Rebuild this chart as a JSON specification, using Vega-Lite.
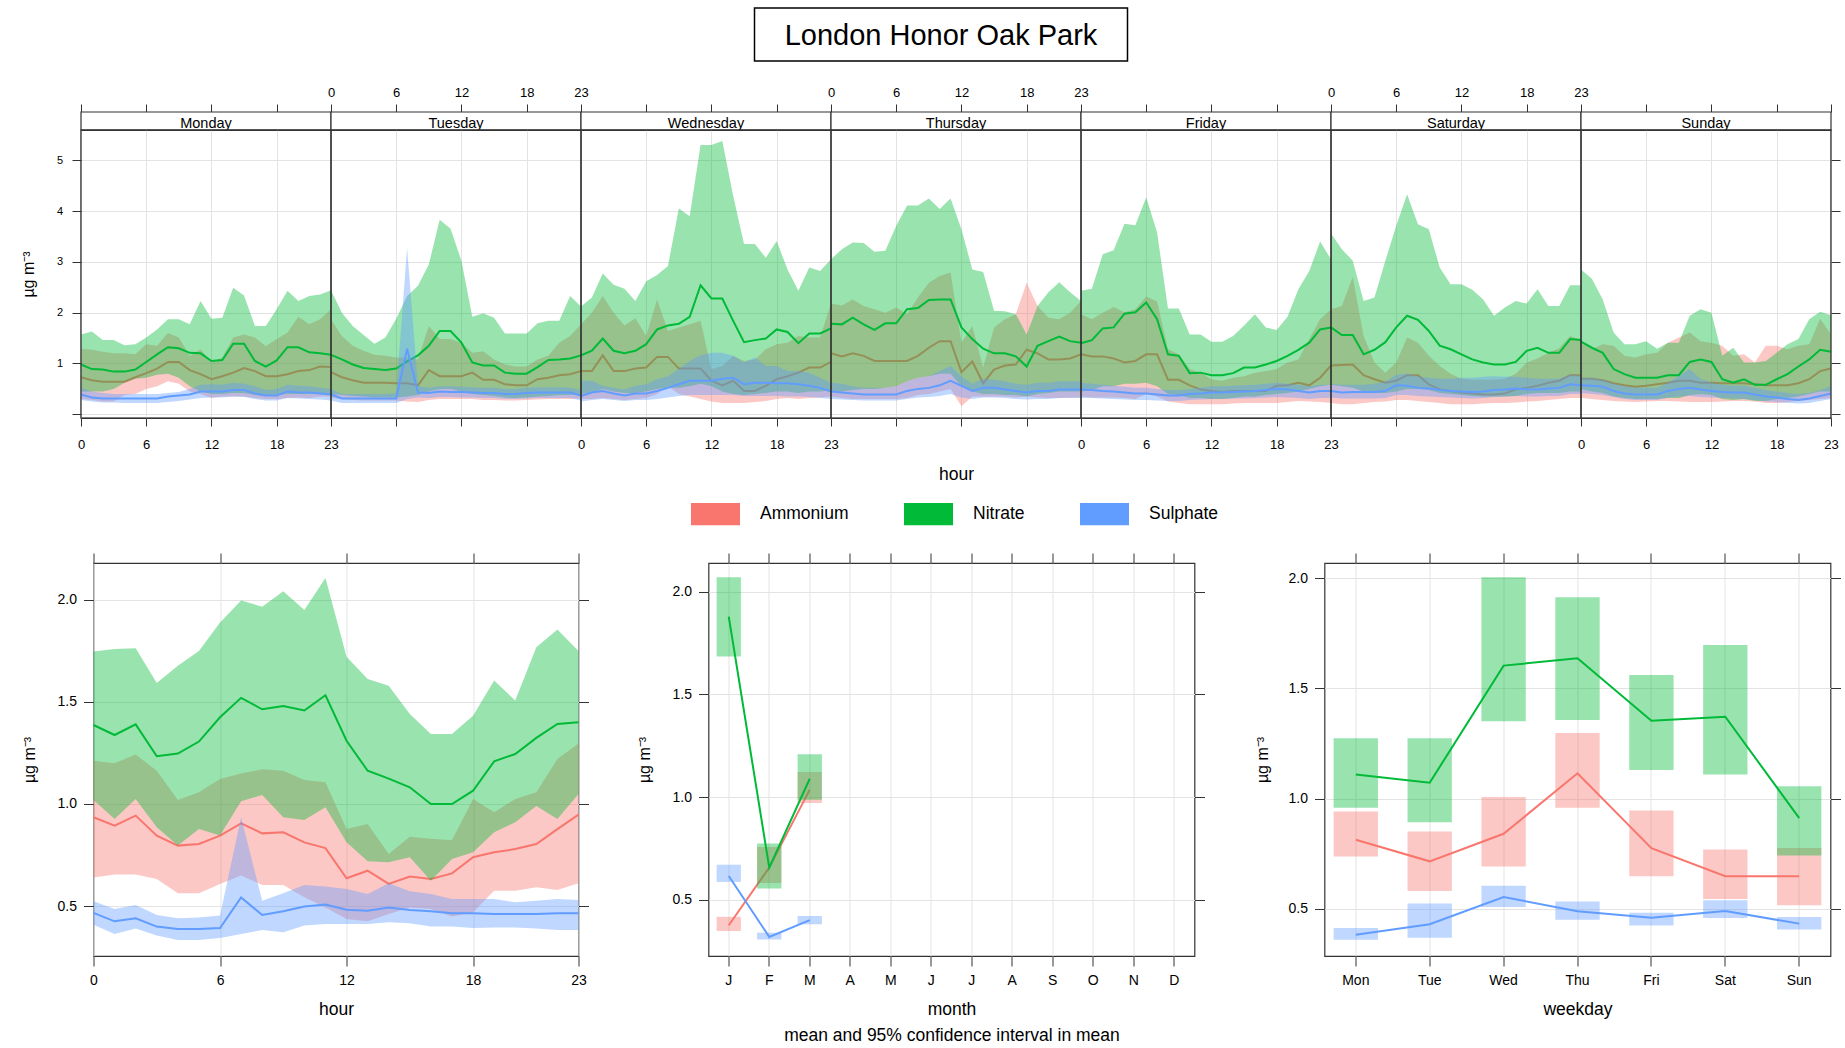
{
"$schema":"https://vega.github.io/schema/vega-lite/v6.json",
"padding":{"left":20,"top":7,"right":2,"bottom":0},
"background":"white",
"config":{
 "font":"Liberation Sans",
 "view":{"stroke":null},
 "axis":{"domain":false,"tickColor":"#333333","labelColor":"#000000","titleColor":"#000000","gridColor":"#E3E3E3","titleFontWeight":"normal","labelFlush":false,"labelOverlap":false,"labelBound":false,"tickWidth":1}
},
"datasets":{
"title":[{"text":"London Honor Oak Park"}],
"species":[{"name":"Ammonium"},{"name":"Nitrate"},{"name":"Sulphate"}],
"days":[{"day":"Monday"},{"day":"Tuesday"},{"day":"Wednesday"},{"day":"Thursday"},{"day":"Friday"},{"day":"Saturday"},{"day":"Sunday"}],
"week":[
{"day":"Monday","hour":0,"amm":0.73,"amm_lo":0.30,"amm_hi":1.29,"nit":0.98,"nit_lo":0.45,"nit_hi":1.57,"sul":0.39,"sul_lo":0.28,"sul_hi":0.52},
{"day":"Monday","hour":1,"amm":0.67,"amm_lo":0.28,"amm_hi":1.27,"nit":0.89,"nit_lo":0.45,"nit_hi":1.63,"sul":0.33,"sul_lo":0.25,"sul_hi":0.45},
{"day":"Monday","hour":2,"amm":0.64,"amm_lo":0.25,"amm_hi":1.23,"nit":0.88,"nit_lo":0.45,"nit_hi":1.46,"sul":0.31,"sul_lo":0.23,"sul_hi":0.42},
{"day":"Monday","hour":3,"amm":0.64,"amm_lo":0.25,"amm_hi":1.20,"nit":0.84,"nit_lo":0.50,"nit_hi":1.46,"sul":0.31,"sul_lo":0.23,"sul_hi":0.40},
{"day":"Monday","hour":4,"amm":0.64,"amm_lo":0.38,"amm_hi":1.20,"nit":0.84,"nit_lo":0.62,"nit_hi":1.36,"sul":0.31,"sul_lo":0.22,"sul_hi":0.40},
{"day":"Monday","hour":5,"amm":0.73,"amm_lo":0.40,"amm_hi":1.18,"nit":0.88,"nit_lo":0.70,"nit_hi":1.38,"sul":0.31,"sul_lo":0.22,"sul_hi":0.40},
{"day":"Monday","hour":6,"amm":0.81,"amm_lo":0.50,"amm_hi":1.38,"nit":1.03,"nit_lo":0.72,"nit_hi":1.51,"sul":0.31,"sul_lo":0.22,"sul_hi":0.40},
{"day":"Monday","hour":7,"amm":0.90,"amm_lo":0.55,"amm_hi":1.35,"nit":1.18,"nit_lo":0.78,"nit_hi":1.67,"sul":0.31,"sul_lo":0.22,"sul_hi":0.40},
{"day":"Monday","hour":8,"amm":1.03,"amm_lo":0.65,"amm_hi":1.60,"nit":1.32,"nit_lo":0.80,"nit_hi":1.87,"sul":0.35,"sul_lo":0.24,"sul_hi":0.42},
{"day":"Monday","hour":9,"amm":1.03,"amm_lo":0.60,"amm_hi":1.51,"nit":1.30,"nit_lo":0.72,"nit_hi":1.87,"sul":0.37,"sul_lo":0.26,"sul_hi":0.44},
{"day":"Monday","hour":10,"amm":0.87,"amm_lo":0.45,"amm_hi":1.15,"nit":1.21,"nit_lo":0.55,"nit_hi":1.77,"sul":0.39,"sul_lo":0.29,"sul_hi":0.50},
{"day":"Monday","hour":11,"amm":0.79,"amm_lo":0.40,"amm_hi":1.28,"nit":1.20,"nit_lo":0.45,"nit_hi":2.23,"sul":0.45,"sul_lo":0.32,"sul_hi":0.58},
{"day":"Monday","hour":12,"amm":0.69,"amm_lo":0.32,"amm_hi":1.02,"nit":1.05,"nit_lo":0.40,"nit_hi":1.88,"sul":0.45,"sul_lo":0.33,"sul_hi":0.59},
{"day":"Monday","hour":13,"amm":0.75,"amm_lo":0.35,"amm_hi":1.12,"nit":1.07,"nit_lo":0.40,"nit_hi":1.90,"sul":0.45,"sul_lo":0.33,"sul_hi":0.58},
{"day":"Monday","hour":14,"amm":0.82,"amm_lo":0.35,"amm_hi":1.51,"nit":1.39,"nit_lo":0.42,"nit_hi":2.49,"sul":0.48,"sul_lo":0.35,"sul_hi":0.62},
{"day":"Monday","hour":15,"amm":0.91,"amm_lo":0.35,"amm_hi":1.57,"nit":1.39,"nit_lo":0.42,"nit_hi":2.34,"sul":0.48,"sul_lo":0.34,"sul_hi":0.60},
{"day":"Monday","hour":16,"amm":0.85,"amm_lo":0.32,"amm_hi":1.51,"nit":1.05,"nit_lo":0.38,"nit_hi":1.74,"sul":0.41,"sul_lo":0.30,"sul_hi":0.55},
{"day":"Monday","hour":17,"amm":0.75,"amm_lo":0.30,"amm_hi":1.34,"nit":0.94,"nit_lo":0.36,"nit_hi":1.74,"sul":0.37,"sul_lo":0.27,"sul_hi":0.48},
{"day":"Monday","hour":18,"amm":0.75,"amm_lo":0.30,"amm_hi":1.48,"nit":1.06,"nit_lo":0.38,"nit_hi":2.07,"sul":0.37,"sul_lo":0.27,"sul_hi":0.50},
{"day":"Monday","hour":19,"amm":0.79,"amm_lo":0.32,"amm_hi":1.61,"nit":1.32,"nit_lo":0.40,"nit_hi":2.43,"sul":0.45,"sul_lo":0.32,"sul_hi":0.58},
{"day":"Monday","hour":20,"amm":0.85,"amm_lo":0.33,"amm_hi":1.92,"nit":1.32,"nit_lo":0.40,"nit_hi":2.23,"sul":0.43,"sul_lo":0.31,"sul_hi":0.56},
{"day":"Monday","hour":21,"amm":0.87,"amm_lo":0.32,"amm_hi":1.77,"nit":1.22,"nit_lo":0.40,"nit_hi":2.33,"sul":0.43,"sul_lo":0.30,"sul_hi":0.55},
{"day":"Monday","hour":22,"amm":0.94,"amm_lo":0.35,"amm_hi":1.87,"nit":1.20,"nit_lo":0.40,"nit_hi":2.36,"sul":0.41,"sul_lo":0.29,"sul_hi":0.52},
{"day":"Monday","hour":23,"amm":0.93,"amm_lo":0.35,"amm_hi":2.07,"nit":1.17,"nit_lo":0.40,"nit_hi":2.44,"sul":0.39,"sul_lo":0.27,"sul_hi":0.50},
{"day":"Tuesday","hour":0,"amm":0.83,"amm_lo":0.32,"amm_hi":1.87,"nit":1.17,"nit_lo":0.40,"nit_hi":2.44,"sul":0.39,"sul_lo":0.27,"sul_hi":0.50},
{"day":"Tuesday","hour":1,"amm":0.73,"amm_lo":0.30,"amm_hi":1.54,"nit":1.08,"nit_lo":0.38,"nit_hi":2.00,"sul":0.31,"sul_lo":0.22,"sul_hi":0.40},
{"day":"Tuesday","hour":2,"amm":0.67,"amm_lo":0.28,"amm_hi":1.35,"nit":0.98,"nit_lo":0.36,"nit_hi":1.74,"sul":0.31,"sul_lo":0.22,"sul_hi":0.40},
{"day":"Tuesday","hour":3,"amm":0.62,"amm_lo":0.27,"amm_hi":1.25,"nit":0.91,"nit_lo":0.35,"nit_hi":1.56,"sul":0.31,"sul_lo":0.22,"sul_hi":0.40},
{"day":"Tuesday","hour":4,"amm":0.62,"amm_lo":0.27,"amm_hi":1.17,"nit":0.89,"nit_lo":0.33,"nit_hi":1.39,"sul":0.31,"sul_lo":0.22,"sul_hi":0.40},
{"day":"Tuesday","hour":5,"amm":0.62,"amm_lo":0.27,"amm_hi":1.15,"nit":0.87,"nit_lo":0.33,"nit_hi":1.51,"sul":0.31,"sul_lo":0.22,"sul_hi":0.40},
{"day":"Tuesday","hour":6,"amm":0.61,"amm_lo":0.27,"amm_hi":1.12,"nit":0.90,"nit_lo":0.33,"nit_hi":1.88,"sul":0.31,"sul_lo":0.22,"sul_hi":0.42},
{"day":"Tuesday","hour":7,"amm":0.61,"amm_lo":0.25,"amm_hi":1.12,"nit":1.04,"nit_lo":0.35,"nit_hi":2.33,"sul":1.29,"sul_lo":0.30,"sul_hi":3.28},
{"day":"Tuesday","hour":8,"amm":0.57,"amm_lo":0.24,"amm_hi":1.08,"nit":1.16,"nit_lo":0.38,"nit_hi":2.53,"sul":0.43,"sul_lo":0.33,"sul_hi":0.55},
{"day":"Tuesday","hour":9,"amm":0.87,"amm_lo":0.28,"amm_hi":1.74,"nit":1.35,"nit_lo":0.45,"nit_hi":2.95,"sul":0.42,"sul_lo":0.32,"sul_hi":0.52},
{"day":"Tuesday","hour":10,"amm":0.75,"amm_lo":0.30,"amm_hi":1.48,"nit":1.64,"nit_lo":0.50,"nit_hi":3.83,"sul":0.45,"sul_lo":0.34,"sul_hi":0.55},
{"day":"Tuesday","hour":11,"amm":0.75,"amm_lo":0.30,"amm_hi":1.48,"nit":1.64,"nit_lo":0.50,"nit_hi":3.65,"sul":0.44,"sul_lo":0.34,"sul_hi":0.55},
{"day":"Tuesday","hour":12,"amm":0.75,"amm_lo":0.30,"amm_hi":1.41,"nit":1.41,"nit_lo":0.45,"nit_hi":3.02,"sul":0.44,"sul_lo":0.33,"sul_hi":0.54},
{"day":"Tuesday","hour":13,"amm":0.82,"amm_lo":0.30,"amm_hi":1.21,"nit":1.02,"nit_lo":0.40,"nit_hi":1.92,"sul":0.43,"sul_lo":0.33,"sul_hi":0.53},
{"day":"Tuesday","hour":14,"amm":0.68,"amm_lo":0.28,"amm_hi":1.24,"nit":0.96,"nit_lo":0.38,"nit_hi":1.99,"sul":0.42,"sul_lo":0.32,"sul_hi":0.52},
{"day":"Tuesday","hour":15,"amm":0.68,"amm_lo":0.28,"amm_hi":1.08,"nit":0.96,"nit_lo":0.36,"nit_hi":1.90,"sul":0.42,"sul_lo":0.32,"sul_hi":0.52},
{"day":"Tuesday","hour":16,"amm":0.59,"amm_lo":0.27,"amm_hi":0.98,"nit":0.82,"nit_lo":0.33,"nit_hi":1.59,"sul":0.40,"sul_lo":0.30,"sul_hi":0.50},
{"day":"Tuesday","hour":17,"amm":0.57,"amm_lo":0.27,"amm_hi":0.94,"nit":0.80,"nit_lo":0.32,"nit_hi":1.59,"sul":0.40,"sul_lo":0.30,"sul_hi":0.50},
{"day":"Tuesday","hour":18,"amm":0.57,"amm_lo":0.28,"amm_hi":0.94,"nit":0.80,"nit_lo":0.33,"nit_hi":1.59,"sul":0.42,"sul_lo":0.31,"sul_hi":0.52},
{"day":"Tuesday","hour":19,"amm":0.69,"amm_lo":0.29,"amm_hi":1.08,"nit":0.93,"nit_lo":0.35,"nit_hi":1.79,"sul":0.43,"sul_lo":0.32,"sul_hi":0.53},
{"day":"Tuesday","hour":20,"amm":0.72,"amm_lo":0.30,"amm_hi":1.15,"nit":1.07,"nit_lo":0.36,"nit_hi":1.84,"sul":0.43,"sul_lo":0.32,"sul_hi":0.53},
{"day":"Tuesday","hour":21,"amm":0.77,"amm_lo":0.30,"amm_hi":1.41,"nit":1.08,"nit_lo":0.38,"nit_hi":1.84,"sul":0.43,"sul_lo":0.32,"sul_hi":0.53},
{"day":"Tuesday","hour":22,"amm":0.79,"amm_lo":0.30,"amm_hi":1.54,"nit":1.10,"nit_lo":0.38,"nit_hi":2.33,"sul":0.43,"sul_lo":0.32,"sul_hi":0.52},
{"day":"Tuesday","hour":23,"amm":0.85,"amm_lo":0.31,"amm_hi":1.77,"nit":1.16,"nit_lo":0.40,"nit_hi":2.12,"sul":0.37,"sul_lo":0.27,"sul_hi":0.48},
{"day":"Wednesday","hour":0,"amm":0.85,"amm_lo":0.30,"amm_hi":1.77,"nit":1.16,"nit_lo":0.40,"nit_hi":2.12,"sul":0.36,"sul_lo":0.25,"sul_hi":0.66},
{"day":"Wednesday","hour":1,"amm":0.85,"amm_lo":0.30,"amm_hi":2.00,"nit":1.25,"nit_lo":0.42,"nit_hi":2.30,"sul":0.43,"sul_lo":0.28,"sul_hi":0.66},
{"day":"Wednesday","hour":2,"amm":1.16,"amm_lo":0.32,"amm_hi":2.33,"nit":1.49,"nit_lo":0.50,"nit_hi":2.77,"sul":0.46,"sul_lo":0.30,"sul_hi":0.56},
{"day":"Wednesday","hour":3,"amm":0.85,"amm_lo":0.30,"amm_hi":2.00,"nit":1.25,"nit_lo":0.45,"nit_hi":2.55,"sul":0.41,"sul_lo":0.28,"sul_hi":0.52},
{"day":"Wednesday","hour":4,"amm":0.85,"amm_lo":0.28,"amm_hi":1.75,"nit":1.20,"nit_lo":0.42,"nit_hi":2.47,"sul":0.37,"sul_lo":0.26,"sul_hi":0.49},
{"day":"Wednesday","hour":5,"amm":0.90,"amm_lo":0.30,"amm_hi":1.89,"nit":1.25,"nit_lo":0.42,"nit_hi":2.23,"sul":0.41,"sul_lo":0.28,"sul_hi":0.56},
{"day":"Wednesday","hour":6,"amm":0.92,"amm_lo":0.32,"amm_hi":1.54,"nit":1.38,"nit_lo":0.45,"nit_hi":2.62,"sul":0.41,"sul_lo":0.28,"sul_hi":0.59},
{"day":"Wednesday","hour":7,"amm":1.13,"amm_lo":0.40,"amm_hi":2.26,"nit":1.67,"nit_lo":0.50,"nit_hi":2.74,"sul":0.46,"sul_lo":0.30,"sul_hi":0.69},
{"day":"Wednesday","hour":8,"amm":1.13,"amm_lo":0.55,"amm_hi":1.64,"nit":1.75,"nit_lo":0.52,"nit_hi":2.92,"sul":0.52,"sul_lo":0.33,"sul_hi":0.75},
{"day":"Wednesday","hour":9,"amm":0.90,"amm_lo":0.40,"amm_hi":1.71,"nit":1.78,"nit_lo":0.52,"nit_hi":4.05,"sul":0.59,"sul_lo":0.36,"sul_hi":0.89},
{"day":"Wednesday","hour":10,"amm":0.90,"amm_lo":0.35,"amm_hi":1.77,"nit":1.92,"nit_lo":0.55,"nit_hi":3.90,"sul":0.66,"sul_lo":0.38,"sul_hi":1.05},
{"day":"Wednesday","hour":11,"amm":0.90,"amm_lo":0.30,"amm_hi":1.84,"nit":2.54,"nit_lo":0.60,"nit_hi":5.30,"sul":0.66,"sul_lo":0.38,"sul_hi":1.16},
{"day":"Wednesday","hour":12,"amm":0.66,"amm_lo":0.25,"amm_hi":0.89,"nit":2.28,"nit_lo":0.55,"nit_hi":5.30,"sul":0.66,"sul_lo":0.38,"sul_hi":1.21},
{"day":"Wednesday","hour":13,"amm":0.57,"amm_lo":0.22,"amm_hi":0.95,"nit":2.28,"nit_lo":0.45,"nit_hi":5.38,"sul":0.70,"sul_lo":0.38,"sul_hi":1.21},
{"day":"Wednesday","hour":14,"amm":0.66,"amm_lo":0.22,"amm_hi":1.15,"nit":1.84,"nit_lo":0.40,"nit_hi":4.30,"sul":0.72,"sul_lo":0.38,"sul_hi":1.15},
{"day":"Wednesday","hour":15,"amm":0.46,"amm_lo":0.22,"amm_hi":1.05,"nit":1.42,"nit_lo":0.38,"nit_hi":3.35,"sul":0.59,"sul_lo":0.36,"sul_hi":1.02},
{"day":"Wednesday","hour":16,"amm":0.46,"amm_lo":0.24,"amm_hi":1.08,"nit":1.46,"nit_lo":0.40,"nit_hi":3.35,"sul":0.62,"sul_lo":0.36,"sul_hi":1.12},
{"day":"Wednesday","hour":17,"amm":0.56,"amm_lo":0.26,"amm_hi":1.28,"nit":1.49,"nit_lo":0.42,"nit_hi":3.08,"sul":0.62,"sul_lo":0.36,"sul_hi":0.95},
{"day":"Wednesday","hour":18,"amm":0.69,"amm_lo":0.30,"amm_hi":1.38,"nit":1.67,"nit_lo":0.45,"nit_hi":3.41,"sul":0.61,"sul_lo":0.36,"sul_hi":0.95},
{"day":"Wednesday","hour":19,"amm":0.75,"amm_lo":0.32,"amm_hi":1.41,"nit":1.62,"nit_lo":0.45,"nit_hi":2.85,"sul":0.61,"sul_lo":0.35,"sul_hi":0.85},
{"day":"Wednesday","hour":20,"amm":0.82,"amm_lo":0.30,"amm_hi":1.54,"nit":1.40,"nit_lo":0.42,"nit_hi":2.43,"sul":0.59,"sul_lo":0.35,"sul_hi":0.85},
{"day":"Wednesday","hour":21,"amm":0.92,"amm_lo":0.32,"amm_hi":1.51,"nit":1.59,"nit_lo":0.45,"nit_hi":2.89,"sul":0.56,"sul_lo":0.34,"sul_hi":0.82},
{"day":"Wednesday","hour":22,"amm":0.92,"amm_lo":0.33,"amm_hi":1.51,"nit":1.59,"nit_lo":0.45,"nit_hi":2.82,"sul":0.52,"sul_lo":0.32,"sul_hi":0.72},
{"day":"Wednesday","hour":23,"amm":1.03,"amm_lo":0.35,"amm_hi":2.18,"nit":1.69,"nit_lo":0.48,"nit_hi":3.05,"sul":0.45,"sul_lo":0.30,"sul_hi":0.62},
{"day":"Thursday","hour":0,"amm":1.20,"amm_lo":0.35,"amm_hi":2.18,"nit":1.78,"nit_lo":0.45,"nit_hi":3.05,"sul":0.45,"sul_lo":0.30,"sul_hi":0.62},
{"day":"Thursday","hour":1,"amm":1.14,"amm_lo":0.32,"amm_hi":2.14,"nit":1.77,"nit_lo":0.45,"nit_hi":3.25,"sul":0.43,"sul_lo":0.29,"sul_hi":0.60},
{"day":"Thursday","hour":2,"amm":1.20,"amm_lo":0.30,"amm_hi":2.26,"nit":1.90,"nit_lo":0.48,"nit_hi":3.38,"sul":0.41,"sul_lo":0.28,"sul_hi":0.55},
{"day":"Thursday","hour":3,"amm":1.15,"amm_lo":0.30,"amm_hi":2.13,"nit":1.77,"nit_lo":0.50,"nit_hi":3.37,"sul":0.39,"sul_lo":0.27,"sul_hi":0.52},
{"day":"Thursday","hour":4,"amm":1.05,"amm_lo":0.30,"amm_hi":2.07,"nit":1.66,"nit_lo":0.50,"nit_hi":3.20,"sul":0.39,"sul_lo":0.27,"sul_hi":0.52},
{"day":"Thursday","hour":5,"amm":1.05,"amm_lo":0.30,"amm_hi":2.00,"nit":1.79,"nit_lo":0.52,"nit_hi":3.22,"sul":0.39,"sul_lo":0.27,"sul_hi":0.52},
{"day":"Thursday","hour":6,"amm":1.05,"amm_lo":0.30,"amm_hi":2.10,"nit":1.79,"nit_lo":0.55,"nit_hi":3.71,"sul":0.39,"sul_lo":0.27,"sul_hi":0.55},
{"day":"Thursday","hour":7,"amm":1.05,"amm_lo":0.32,"amm_hi":1.97,"nit":2.07,"nit_lo":0.65,"nit_hi":4.11,"sul":0.46,"sul_lo":0.30,"sul_hi":0.65},
{"day":"Thursday","hour":8,"amm":1.15,"amm_lo":0.38,"amm_hi":2.30,"nit":2.09,"nit_lo":0.72,"nit_hi":4.11,"sul":0.50,"sul_lo":0.33,"sul_hi":0.72},
{"day":"Thursday","hour":9,"amm":1.31,"amm_lo":0.40,"amm_hi":2.59,"nit":2.25,"nit_lo":0.75,"nit_hi":4.25,"sul":0.52,"sul_lo":0.34,"sul_hi":0.75},
{"day":"Thursday","hour":10,"amm":1.44,"amm_lo":0.45,"amm_hi":2.72,"nit":2.26,"nit_lo":0.80,"nit_hi":4.04,"sul":0.57,"sul_lo":0.36,"sul_hi":0.85},
{"day":"Thursday","hour":11,"amm":1.44,"amm_lo":0.50,"amm_hi":2.79,"nit":2.26,"nit_lo":0.80,"nit_hi":4.25,"sul":0.66,"sul_lo":0.40,"sul_hi":0.95},
{"day":"Thursday","hour":12,"amm":0.83,"amm_lo":0.16,"amm_hi":1.41,"nit":1.71,"nit_lo":0.55,"nit_hi":3.64,"sul":0.56,"sul_lo":0.33,"sul_hi":0.75},
{"day":"Thursday","hour":13,"amm":1.04,"amm_lo":0.35,"amm_hi":1.74,"nit":1.48,"nit_lo":0.45,"nit_hi":2.85,"sul":0.46,"sul_lo":0.30,"sul_hi":0.60},
{"day":"Thursday","hour":14,"amm":0.61,"amm_lo":0.35,"amm_hi":0.92,"nit":1.29,"nit_lo":0.40,"nit_hi":2.80,"sul":0.52,"sul_lo":0.33,"sul_hi":0.70},
{"day":"Thursday","hour":15,"amm":0.88,"amm_lo":0.35,"amm_hi":1.71,"nit":1.20,"nit_lo":0.40,"nit_hi":2.04,"sul":0.52,"sul_lo":0.33,"sul_hi":0.68},
{"day":"Thursday","hour":16,"amm":0.96,"amm_lo":0.35,"amm_hi":1.87,"nit":1.20,"nit_lo":0.38,"nit_hi":2.03,"sul":0.49,"sul_lo":0.32,"sul_hi":0.65},
{"day":"Thursday","hour":17,"amm":0.98,"amm_lo":0.33,"amm_hi":1.97,"nit":1.14,"nit_lo":0.38,"nit_hi":1.97,"sul":0.46,"sul_lo":0.30,"sul_hi":0.60},
{"day":"Thursday","hour":18,"amm":1.27,"amm_lo":0.35,"amm_hi":2.59,"nit":0.94,"nit_lo":0.35,"nit_hi":1.57,"sul":0.43,"sul_lo":0.29,"sul_hi":0.58},
{"day":"Thursday","hour":19,"amm":1.20,"amm_lo":0.33,"amm_hi":2.13,"nit":1.35,"nit_lo":0.40,"nit_hi":2.13,"sul":0.46,"sul_lo":0.30,"sul_hi":0.62},
{"day":"Thursday","hour":20,"amm":1.08,"amm_lo":0.32,"amm_hi":1.90,"nit":1.44,"nit_lo":0.42,"nit_hi":2.40,"sul":0.46,"sul_lo":0.30,"sul_hi":0.62},
{"day":"Thursday","hour":21,"amm":1.08,"amm_lo":0.32,"amm_hi":1.87,"nit":1.53,"nit_lo":0.45,"nit_hi":2.60,"sul":0.49,"sul_lo":0.32,"sul_hi":0.65},
{"day":"Thursday","hour":22,"amm":1.10,"amm_lo":0.33,"amm_hi":2.00,"nit":1.44,"nit_lo":0.45,"nit_hi":2.40,"sul":0.49,"sul_lo":0.32,"sul_hi":0.65},
{"day":"Thursday","hour":23,"amm":1.18,"amm_lo":0.33,"amm_hi":2.23,"nit":1.41,"nit_lo":0.45,"nit_hi":2.23,"sul":0.49,"sul_lo":0.32,"sul_hi":0.65},
{"day":"Friday","hour":0,"amm":1.18,"amm_lo":0.35,"amm_hi":1.97,"nit":1.40,"nit_lo":0.45,"nit_hi":2.43,"sul":0.49,"sul_lo":0.32,"sul_hi":0.62},
{"day":"Friday","hour":1,"amm":1.14,"amm_lo":0.33,"amm_hi":1.87,"nit":1.46,"nit_lo":0.48,"nit_hi":2.47,"sul":0.48,"sul_lo":0.32,"sul_hi":0.60},
{"day":"Friday","hour":2,"amm":1.14,"amm_lo":0.33,"amm_hi":2.00,"nit":1.69,"nit_lo":0.55,"nit_hi":3.15,"sul":0.46,"sul_lo":0.31,"sul_hi":0.58},
{"day":"Friday","hour":3,"amm":1.10,"amm_lo":0.33,"amm_hi":2.11,"nit":1.71,"nit_lo":0.55,"nit_hi":3.23,"sul":0.45,"sul_lo":0.30,"sul_hi":0.56},
{"day":"Friday","hour":4,"amm":1.02,"amm_lo":0.32,"amm_hi":2.01,"nit":1.98,"nit_lo":0.60,"nit_hi":3.75,"sul":0.43,"sul_lo":0.29,"sul_hi":0.54},
{"day":"Friday","hour":5,"amm":1.05,"amm_lo":0.30,"amm_hi":2.07,"nit":2.01,"nit_lo":0.60,"nit_hi":3.72,"sul":0.41,"sul_lo":0.28,"sul_hi":0.52},
{"day":"Friday","hour":6,"amm":1.18,"amm_lo":0.40,"amm_hi":2.32,"nit":2.20,"nit_lo":0.62,"nit_hi":4.27,"sul":0.41,"sul_lo":0.28,"sul_hi":0.52},
{"day":"Friday","hour":7,"amm":1.18,"amm_lo":0.35,"amm_hi":2.22,"nit":1.87,"nit_lo":0.55,"nit_hi":3.58,"sul":0.39,"sul_lo":0.27,"sul_hi":0.50},
{"day":"Friday","hour":8,"amm":0.68,"amm_lo":0.25,"amm_hi":1.28,"nit":1.18,"nit_lo":0.40,"nit_hi":2.08,"sul":0.37,"sul_lo":0.26,"sul_hi":0.48},
{"day":"Friday","hour":9,"amm":0.68,"amm_lo":0.22,"amm_hi":1.18,"nit":1.15,"nit_lo":0.38,"nit_hi":2.08,"sul":0.37,"sul_lo":0.26,"sul_hi":0.48},
{"day":"Friday","hour":10,"amm":0.57,"amm_lo":0.20,"amm_hi":0.89,"nit":0.81,"nit_lo":0.32,"nit_hi":1.57,"sul":0.40,"sul_lo":0.28,"sul_hi":0.50},
{"day":"Friday","hour":11,"amm":0.49,"amm_lo":0.20,"amm_hi":0.82,"nit":0.82,"nit_lo":0.32,"nit_hi":1.57,"sul":0.41,"sul_lo":0.29,"sul_hi":0.52},
{"day":"Friday","hour":12,"amm":0.46,"amm_lo":0.20,"amm_hi":0.69,"nit":0.77,"nit_lo":0.30,"nit_hi":1.43,"sul":0.43,"sul_lo":0.30,"sul_hi":0.55},
{"day":"Friday","hour":13,"amm":0.44,"amm_lo":0.20,"amm_hi":0.66,"nit":0.77,"nit_lo":0.30,"nit_hi":1.43,"sul":0.43,"sul_lo":0.30,"sul_hi":0.55},
{"day":"Friday","hour":14,"amm":0.46,"amm_lo":0.21,"amm_hi":0.72,"nit":0.81,"nit_lo":0.32,"nit_hi":1.54,"sul":0.44,"sul_lo":0.31,"sul_hi":0.56},
{"day":"Friday","hour":15,"amm":0.46,"amm_lo":0.22,"amm_hi":0.75,"nit":0.92,"nit_lo":0.35,"nit_hi":1.75,"sul":0.45,"sul_lo":0.31,"sul_hi":0.57},
{"day":"Friday","hour":16,"amm":0.46,"amm_lo":0.22,"amm_hi":0.82,"nit":0.92,"nit_lo":0.35,"nit_hi":1.97,"sul":0.46,"sul_lo":0.32,"sul_hi":0.58},
{"day":"Friday","hour":17,"amm":0.46,"amm_lo":0.22,"amm_hi":0.85,"nit":0.98,"nit_lo":0.38,"nit_hi":1.71,"sul":0.48,"sul_lo":0.33,"sul_hi":0.60},
{"day":"Friday","hour":18,"amm":0.56,"amm_lo":0.22,"amm_hi":0.89,"nit":1.05,"nit_lo":0.40,"nit_hi":1.66,"sul":0.50,"sul_lo":0.34,"sul_hi":0.62},
{"day":"Friday","hour":19,"amm":0.57,"amm_lo":0.24,"amm_hi":1.02,"nit":1.15,"nit_lo":0.42,"nit_hi":1.92,"sul":0.49,"sul_lo":0.33,"sul_hi":0.60},
{"day":"Friday","hour":20,"amm":0.62,"amm_lo":0.26,"amm_hi":1.08,"nit":1.27,"nit_lo":0.45,"nit_hi":2.46,"sul":0.46,"sul_lo":0.32,"sul_hi":0.58},
{"day":"Friday","hour":21,"amm":0.57,"amm_lo":0.25,"amm_hi":1.48,"nit":1.41,"nit_lo":0.50,"nit_hi":2.82,"sul":0.43,"sul_lo":0.30,"sul_hi":0.55},
{"day":"Friday","hour":22,"amm":0.72,"amm_lo":0.24,"amm_hi":1.87,"nit":1.67,"nit_lo":0.55,"nit_hi":3.40,"sul":0.46,"sul_lo":0.32,"sul_hi":0.58},
{"day":"Friday","hour":23,"amm":0.96,"amm_lo":0.22,"amm_hi":2.07,"nit":1.71,"nit_lo":0.58,"nit_hi":3.05,"sul":0.46,"sul_lo":0.32,"sul_hi":0.58},
{"day":"Saturday","hour":0,"amm":0.96,"amm_lo":0.22,"amm_hi":2.07,"nit":1.71,"nit_lo":0.58,"nit_hi":3.56,"sul":0.46,"sul_lo":0.33,"sul_hi":0.60},
{"day":"Saturday","hour":1,"amm":0.97,"amm_lo":0.20,"amm_hi":2.13,"nit":1.56,"nit_lo":0.55,"nit_hi":3.25,"sul":0.43,"sul_lo":0.31,"sul_hi":0.58},
{"day":"Saturday","hour":2,"amm":0.98,"amm_lo":0.20,"amm_hi":2.70,"nit":1.56,"nit_lo":0.52,"nit_hi":3.02,"sul":0.44,"sul_lo":0.31,"sul_hi":0.58},
{"day":"Saturday","hour":3,"amm":0.77,"amm_lo":0.22,"amm_hi":1.54,"nit":1.18,"nit_lo":0.45,"nit_hi":2.23,"sul":0.44,"sul_lo":0.31,"sul_hi":0.58},
{"day":"Saturday","hour":4,"amm":0.69,"amm_lo":0.24,"amm_hi":1.02,"nit":1.27,"nit_lo":0.42,"nit_hi":2.30,"sul":0.44,"sul_lo":0.31,"sul_hi":0.60},
{"day":"Saturday","hour":5,"amm":0.62,"amm_lo":0.25,"amm_hi":0.82,"nit":1.42,"nit_lo":0.42,"nit_hi":3.02,"sul":0.46,"sul_lo":0.32,"sul_hi":0.64},
{"day":"Saturday","hour":6,"amm":0.66,"amm_lo":0.28,"amm_hi":1.02,"nit":1.71,"nit_lo":0.45,"nit_hi":3.71,"sul":0.57,"sul_lo":0.38,"sul_hi":0.78},
{"day":"Saturday","hour":7,"amm":0.77,"amm_lo":0.28,"amm_hi":1.51,"nit":1.94,"nit_lo":0.50,"nit_hi":4.33,"sul":0.56,"sul_lo":0.38,"sul_hi":0.80},
{"day":"Saturday","hour":8,"amm":0.77,"amm_lo":0.26,"amm_hi":1.41,"nit":1.86,"nit_lo":0.50,"nit_hi":3.74,"sul":0.52,"sul_lo":0.36,"sul_hi":0.75},
{"day":"Saturday","hour":9,"amm":0.59,"amm_lo":0.24,"amm_hi":1.15,"nit":1.64,"nit_lo":0.48,"nit_hi":3.64,"sul":0.51,"sul_lo":0.35,"sul_hi":0.72},
{"day":"Saturday","hour":10,"amm":0.49,"amm_lo":0.22,"amm_hi":0.95,"nit":1.35,"nit_lo":0.42,"nit_hi":2.89,"sul":0.48,"sul_lo":0.34,"sul_hi":0.70},
{"day":"Saturday","hour":11,"amm":0.46,"amm_lo":0.20,"amm_hi":0.80,"nit":1.28,"nit_lo":0.40,"nit_hi":2.56,"sul":0.46,"sul_lo":0.33,"sul_hi":0.70},
{"day":"Saturday","hour":12,"amm":0.43,"amm_lo":0.20,"amm_hi":0.70,"nit":1.18,"nit_lo":0.38,"nit_hi":2.56,"sul":0.45,"sul_lo":0.32,"sul_hi":0.72},
{"day":"Saturday","hour":13,"amm":0.41,"amm_lo":0.20,"amm_hi":0.68,"nit":1.08,"nit_lo":0.36,"nit_hi":2.45,"sul":0.44,"sul_lo":0.31,"sul_hi":0.72},
{"day":"Saturday","hour":14,"amm":0.39,"amm_lo":0.21,"amm_hi":0.68,"nit":1.02,"nit_lo":0.35,"nit_hi":2.26,"sul":0.45,"sul_lo":0.32,"sul_hi":0.74},
{"day":"Saturday","hour":15,"amm":0.39,"amm_lo":0.22,"amm_hi":0.68,"nit":0.98,"nit_lo":0.35,"nit_hi":1.94,"sul":0.48,"sul_lo":0.34,"sul_hi":0.75},
{"day":"Saturday","hour":16,"amm":0.41,"amm_lo":0.22,"amm_hi":0.70,"nit":0.98,"nit_lo":0.35,"nit_hi":2.10,"sul":0.49,"sul_lo":0.35,"sul_hi":0.74},
{"day":"Saturday","hour":17,"amm":0.49,"amm_lo":0.23,"amm_hi":0.80,"nit":1.03,"nit_lo":0.36,"nit_hi":2.23,"sul":0.51,"sul_lo":0.36,"sul_hi":0.74},
{"day":"Saturday","hour":18,"amm":0.52,"amm_lo":0.25,"amm_hi":1.02,"nit":1.25,"nit_lo":0.40,"nit_hi":2.18,"sul":0.49,"sul_lo":0.35,"sul_hi":0.72},
{"day":"Saturday","hour":19,"amm":0.56,"amm_lo":0.26,"amm_hi":1.10,"nit":1.31,"nit_lo":0.42,"nit_hi":2.46,"sul":0.49,"sul_lo":0.35,"sul_hi":0.70},
{"day":"Saturday","hour":20,"amm":0.62,"amm_lo":0.28,"amm_hi":1.21,"nit":1.21,"nit_lo":0.42,"nit_hi":2.13,"sul":0.51,"sul_lo":0.36,"sul_hi":0.70},
{"day":"Saturday","hour":21,"amm":0.66,"amm_lo":0.30,"amm_hi":1.30,"nit":1.21,"nit_lo":0.42,"nit_hi":2.13,"sul":0.52,"sul_lo":0.36,"sul_hi":0.70},
{"day":"Saturday","hour":22,"amm":0.77,"amm_lo":0.32,"amm_hi":1.54,"nit":1.48,"nit_lo":0.45,"nit_hi":2.54,"sul":0.59,"sul_lo":0.40,"sul_hi":0.78},
{"day":"Saturday","hour":23,"amm":0.77,"amm_lo":0.32,"amm_hi":1.46,"nit":1.46,"nit_lo":0.45,"nit_hi":2.54,"sul":0.57,"sul_lo":0.40,"sul_hi":0.76},
{"day":"Sunday","hour":0,"amm":0.70,"amm_lo":0.32,"amm_hi":1.41,"nit":1.43,"nit_lo":0.50,"nit_hi":2.85,"sul":0.57,"sul_lo":0.42,"sul_hi":0.72},
{"day":"Sunday","hour":1,"amm":0.70,"amm_lo":0.30,"amm_hi":1.28,"nit":1.31,"nit_lo":0.45,"nit_hi":2.67,"sul":0.56,"sul_lo":0.40,"sul_hi":0.72},
{"day":"Sunday","hour":2,"amm":0.67,"amm_lo":0.28,"amm_hi":1.38,"nit":1.21,"nit_lo":0.42,"nit_hi":2.26,"sul":0.54,"sul_lo":0.38,"sul_hi":0.68},
{"day":"Sunday","hour":3,"amm":0.61,"amm_lo":0.26,"amm_hi":1.35,"nit":0.89,"nit_lo":0.35,"nit_hi":1.61,"sul":0.46,"sul_lo":0.34,"sul_hi":0.60},
{"day":"Sunday","hour":4,"amm":0.57,"amm_lo":0.25,"amm_hi":1.15,"nit":0.79,"nit_lo":0.32,"nit_hi":1.38,"sul":0.41,"sul_lo":0.30,"sul_hi":0.55},
{"day":"Sunday","hour":5,"amm":0.54,"amm_lo":0.24,"amm_hi":1.12,"nit":0.72,"nit_lo":0.30,"nit_hi":1.38,"sul":0.39,"sul_lo":0.28,"sul_hi":0.52},
{"day":"Sunday","hour":6,"amm":0.56,"amm_lo":0.25,"amm_hi":1.18,"nit":0.72,"nit_lo":0.30,"nit_hi":1.44,"sul":0.39,"sul_lo":0.28,"sul_hi":0.52},
{"day":"Sunday","hour":7,"amm":0.59,"amm_lo":0.26,"amm_hi":1.21,"nit":0.72,"nit_lo":0.30,"nit_hi":1.29,"sul":0.39,"sul_lo":0.28,"sul_hi":0.52},
{"day":"Sunday","hour":8,"amm":0.62,"amm_lo":0.26,"amm_hi":1.41,"nit":0.77,"nit_lo":0.32,"nit_hi":1.41,"sul":0.46,"sul_lo":0.33,"sul_hi":0.62},
{"day":"Sunday","hour":9,"amm":0.66,"amm_lo":0.25,"amm_hi":1.51,"nit":0.77,"nit_lo":0.32,"nit_hi":1.41,"sul":0.50,"sul_lo":0.35,"sul_hi":0.75},
{"day":"Sunday","hour":10,"amm":0.66,"amm_lo":0.24,"amm_hi":1.61,"nit":1.03,"nit_lo":0.38,"nit_hi":1.94,"sul":0.52,"sul_lo":0.36,"sul_hi":0.89},
{"day":"Sunday","hour":11,"amm":0.62,"amm_lo":0.24,"amm_hi":1.44,"nit":1.08,"nit_lo":0.40,"nit_hi":2.07,"sul":0.49,"sul_lo":0.34,"sul_hi":0.70},
{"day":"Sunday","hour":12,"amm":0.62,"amm_lo":0.24,"amm_hi":1.41,"nit":1.03,"nit_lo":0.38,"nit_hi":2.00,"sul":0.46,"sul_lo":0.33,"sul_hi":0.62},
{"day":"Sunday","hour":13,"amm":0.61,"amm_lo":0.25,"amm_hi":1.35,"nit":0.69,"nit_lo":0.30,"nit_hi":1.15,"sul":0.44,"sul_lo":0.32,"sul_hi":0.58},
{"day":"Sunday","hour":14,"amm":0.61,"amm_lo":0.26,"amm_hi":1.15,"nit":0.62,"nit_lo":0.28,"nit_hi":1.31,"sul":0.43,"sul_lo":0.31,"sul_hi":0.56},
{"day":"Sunday","hour":15,"amm":0.61,"amm_lo":0.26,"amm_hi":1.18,"nit":0.69,"nit_lo":0.30,"nit_hi":1.02,"sul":0.43,"sul_lo":0.30,"sul_hi":0.56},
{"day":"Sunday","hour":16,"amm":0.59,"amm_lo":0.25,"amm_hi":1.02,"nit":0.58,"nit_lo":0.26,"nit_hi":1.02,"sul":0.39,"sul_lo":0.28,"sul_hi":0.52},
{"day":"Sunday","hour":17,"amm":0.57,"amm_lo":0.22,"amm_hi":1.35,"nit":0.58,"nit_lo":0.26,"nit_hi":1.05,"sul":0.35,"sul_lo":0.25,"sul_hi":0.48},
{"day":"Sunday","hour":18,"amm":0.57,"amm_lo":0.22,"amm_hi":1.35,"nit":0.69,"nit_lo":0.30,"nit_hi":1.21,"sul":0.33,"sul_lo":0.24,"sul_hi":0.45},
{"day":"Sunday","hour":19,"amm":0.57,"amm_lo":0.24,"amm_hi":1.28,"nit":0.79,"nit_lo":0.32,"nit_hi":1.38,"sul":0.30,"sul_lo":0.22,"sul_hi":0.42},
{"day":"Sunday","hour":20,"amm":0.61,"amm_lo":0.26,"amm_hi":1.35,"nit":0.94,"nit_lo":0.35,"nit_hi":1.48,"sul":0.28,"sul_lo":0.21,"sul_hi":0.40},
{"day":"Sunday","hour":21,"amm":0.69,"amm_lo":0.28,"amm_hi":1.38,"nit":1.08,"nit_lo":0.40,"nit_hi":1.87,"sul":0.31,"sul_lo":0.22,"sul_hi":0.42},
{"day":"Sunday","hour":22,"amm":0.85,"amm_lo":0.30,"amm_hi":1.88,"nit":1.27,"nit_lo":0.45,"nit_hi":2.02,"sul":0.36,"sul_lo":0.26,"sul_hi":0.48},
{"day":"Sunday","hour":23,"amm":0.90,"amm_lo":0.32,"amm_hi":1.57,"nit":1.23,"nit_lo":0.45,"nit_hi":1.95,"sul":0.41,"sul_lo":0.30,"sul_hi":0.55}
],
"hours":[
{"hour":0,"amm":0.935,"amm_lo":0.64,"amm_hi":1.212,"nit":1.387,"nit_lo":1.02,"nit_hi":1.747,"sul":0.466,"sul_lo":0.408,"sul_hi":0.523},
{"hour":1,"amm":0.894,"amm_lo":0.654,"amm_hi":1.2,"nit":1.338,"nit_lo":0.926,"nit_hi":1.76,"sul":0.425,"sul_lo":0.363,"sul_hi":0.485},
{"hour":2,"amm":0.943,"amm_lo":0.654,"amm_hi":1.242,"nit":1.39,"nit_lo":1.025,"nit_hi":1.763,"sul":0.44,"sul_lo":0.39,"sul_hi":0.505},
{"hour":3,"amm":0.845,"amm_lo":0.632,"amm_hi":1.163,"nit":1.234,"nit_lo":0.886,"nit_hi":1.593,"sul":0.399,"sul_lo":0.355,"sul_hi":0.456},
{"hour":4,"amm":0.796,"amm_lo":0.562,"amm_hi":1.02,"nit":1.247,"nit_lo":0.796,"nit_hi":1.678,"sul":0.387,"sul_lo":0.333,"sul_hi":0.44},
{"hour":5,"amm":0.804,"amm_lo":0.562,"amm_hi":1.057,"nit":1.306,"nit_lo":0.877,"nit_hi":1.75,"sul":0.387,"sul_lo":0.333,"sul_hi":0.444},
{"hour":6,"amm":0.845,"amm_lo":0.608,"amm_hi":1.123,"nit":1.425,"nit_lo":0.845,"nit_hi":1.89,"sul":0.392,"sul_lo":0.343,"sul_hi":0.453},
{"hour":7,"amm":0.905,"amm_lo":0.649,"amm_hi":1.15,"nit":1.52,"nit_lo":1.013,"nit_hi":1.997,"sul":0.542,"sul_lo":0.363,"sul_hi":0.935},
{"hour":8,"amm":0.856,"amm_lo":0.603,"amm_hi":1.17,"nit":1.464,"nit_lo":1.044,"nit_hi":1.967,"sul":0.456,"sul_lo":0.382,"sul_hi":0.526},
{"hour":9,"amm":0.861,"amm_lo":0.603,"amm_hi":1.163,"nit":1.48,"nit_lo":0.935,"nit_hi":2.042,"sul":0.474,"sul_lo":0.371,"sul_hi":0.562},
{"hour":10,"amm":0.812,"amm_lo":0.543,"amm_hi":1.118,"nit":1.458,"nit_lo":0.922,"nit_hi":1.951,"sul":0.498,"sul_lo":0.404,"sul_hi":0.603},
{"hour":11,"amm":0.784,"amm_lo":0.493,"amm_hi":1.106,"nit":1.533,"nit_lo":0.984,"nit_hi":2.108,"sul":0.507,"sul_lo":0.412,"sul_hi":0.595},
{"hour":12,"amm":0.636,"amm_lo":0.436,"amm_hi":0.877,"nit":1.31,"nit_lo":0.812,"nit_hi":1.722,"sul":0.482,"sul_lo":0.412,"sul_hi":0.583},
{"hour":13,"amm":0.673,"amm_lo":0.425,"amm_hi":0.902,"nit":1.163,"nit_lo":0.719,"nit_hi":1.613,"sul":0.477,"sul_lo":0.412,"sul_hi":0.559},
{"hour":14,"amm":0.608,"amm_lo":0.461,"amm_hi":0.755,"nit":1.124,"nit_lo":0.714,"nit_hi":1.58,"sul":0.493,"sul_lo":0.42,"sul_hi":0.611},
{"hour":15,"amm":0.644,"amm_lo":0.493,"amm_hi":0.84,"nit":1.082,"nit_lo":0.739,"nit_hi":1.441,"sul":0.48,"sul_lo":0.415,"sul_hi":0.572},
{"hour":16,"amm":0.632,"amm_lo":0.485,"amm_hi":0.83,"nit":1.0,"nit_lo":0.624,"nit_hi":1.343,"sul":0.474,"sul_lo":0.399,"sul_hi":0.559},
{"hour":17,"amm":0.66,"amm_lo":0.448,"amm_hi":0.822,"nit":1.0,"nit_lo":0.73,"nit_hi":1.343,"sul":0.464,"sul_lo":0.399,"sul_hi":0.534},
{"hour":18,"amm":0.739,"amm_lo":0.469,"amm_hi":1.024,"nit":1.065,"nit_lo":0.763,"nit_hi":1.433,"sul":0.464,"sul_lo":0.392,"sul_hi":0.534},
{"hour":19,"amm":0.763,"amm_lo":0.575,"amm_hi":0.96,"nit":1.209,"nit_lo":0.861,"nit_hi":1.605,"sul":0.461,"sul_lo":0.395,"sul_hi":0.534},
{"hour":20,"amm":0.779,"amm_lo":0.575,"amm_hi":1.024,"nit":1.245,"nit_lo":0.91,"nit_hi":1.507,"sul":0.461,"sul_lo":0.395,"sul_hi":0.518},
{"hour":21,"amm":0.804,"amm_lo":0.592,"amm_hi":1.057,"nit":1.324,"nit_lo":0.99,"nit_hi":1.768,"sul":0.461,"sul_lo":0.39,"sul_hi":0.526},
{"hour":22,"amm":0.877,"amm_lo":0.578,"amm_hi":1.22,"nit":1.392,"nit_lo":0.926,"nit_hi":1.855,"sul":0.464,"sul_lo":0.382,"sul_hi":0.534},
{"hour":23,"amm":0.948,"amm_lo":0.611,"amm_hi":1.297,"nit":1.40,"nit_lo":1.049,"nit_hi":1.75,"sul":0.464,"sul_lo":0.382,"sul_hi":0.529}
],
"months":[
{"month":"Jan","amm":0.375,"amm_lo":0.347,"amm_hi":0.416,"nit":1.88,"nit_lo":1.685,"nit_hi":2.071,"sul":0.615,"sul_lo":0.586,"sul_hi":0.67},
{"month":"Feb","amm":0.656,"amm_lo":0.581,"amm_hi":0.756,"nit":0.656,"nit_lo":0.554,"nit_hi":0.773,"sul":0.318,"sul_lo":0.305,"sul_hi":0.338},
{"month":"Mar","amm":1.036,"amm_lo":0.971,"amm_hi":1.122,"nit":1.089,"nit_lo":0.987,"nit_hi":1.208,"sul":0.40,"sul_lo":0.38,"sul_hi":0.42}
],
"weekdays":[
{"weekday":"Mon","amm":0.813,"amm_lo":0.737,"amm_hi":0.941,"nit":1.109,"nit_lo":0.958,"nit_hi":1.274,"sul":0.382,"sul_lo":0.359,"sul_hi":0.412},
{"weekday":"Tue","amm":0.715,"amm_lo":0.58,"amm_hi":0.851,"nit":1.072,"nit_lo":0.893,"nit_hi":1.274,"sul":0.429,"sul_lo":0.368,"sul_hi":0.523},
{"weekday":"Wed","amm":0.84,"amm_lo":0.692,"amm_hi":1.007,"nit":1.604,"nit_lo":1.351,"nit_hi":2.005,"sul":0.553,"sul_lo":0.507,"sul_hi":0.604},
{"weekday":"Thu","amm":1.115,"amm_lo":0.958,"amm_hi":1.298,"nit":1.637,"nit_lo":1.357,"nit_hi":1.914,"sul":0.488,"sul_lo":0.45,"sul_hi":0.533},
{"weekday":"Fri","amm":0.775,"amm_lo":0.647,"amm_hi":0.946,"nit":1.354,"nit_lo":1.13,"nit_hi":1.561,"sul":0.459,"sul_lo":0.423,"sul_hi":0.482},
{"weekday":"Sat","amm":0.647,"amm_lo":0.544,"amm_hi":0.769,"nit":1.372,"nit_lo":1.109,"nit_hi":1.698,"sul":0.489,"sul_lo":0.458,"sul_hi":0.538},
{"weekday":"Sun","amm":0.647,"amm_lo":0.515,"amm_hi":0.775,"nit":0.911,"nit_lo":0.742,"nit_hi":1.056,"sul":0.432,"sul_lo":0.405,"sul_hi":0.462}
]
},
"concat":[
 {"width":1046.5,"height":53,"data":{"name":"title"},
  "layer":[
   {"mark":{"type":"rect","fillOpacity":0,"stroke":"#000000","strokeWidth":1.5},
    "encoding":{"x":{"field":"text","type":"nominal","scale":{"type":"band","paddingInner":0,"paddingOuter":0.90282,"align":1},"axis":null}}},
   {"mark":{"type":"text","fontSize":29,"baseline":"middle","dy":1,"color":"#000000"},
    "encoding":{"x":{"field":"text","type":"nominal","scale":{"type":"band","paddingInner":0,"paddingOuter":0.90282,"align":1},"axis":null},"text":{"field":"text"}}}
  ]},
 {"concat":[
   {"vconcat":[
    {"width":1750,"height":18,
     "layer":[
      {"data":{"name":"days"},"mark":{"type":"rect","fill":"#FFFFFF","stroke":"#333333","strokeWidth":1.2},
       "encoding":{"x":{"field":"day","type":"nominal","sort":null,"scale":{"type":"band","domain":["Monday","Tuesday","Wednesday","Thursday","Friday","Saturday","Sunday"],"paddingInner":0,"paddingOuter":0},"axis":null}}},
      {"data":{"name":"days"},"mark":{"type":"text","fontSize":14.5,"baseline":"alphabetic","dy":7,"color":"#000000"},
       "encoding":{"x":{"field":"day","type":"nominal","sort":null,"scale":{"type":"band","domain":["Monday","Tuesday","Wednesday","Thursday","Friday","Saturday","Sunday"],"paddingInner":0,"paddingOuter":0},"axis":null},"text":{"field":"day"}}},
      {"data":{"name":"week"},"transform":[{"calculate":"indexof(['Monday','Tuesday','Wednesday','Thursday','Friday','Saturday','Sunday'], datum.day) * 23 + datum.hour","as":"x"}],
       "mark":{"type":"point","opacity":0},
       "encoding":{"x":{"field":"x","type":"quantitative","scale":{"domain":[0,161],"nice":false,"zero":false},
         "axis":{"orient":"top","values":[0,6,12,18,23,29,35,41,46,52,58,64,69,75,81,87,92,98,104,110,115,121,127,133,138,144,150,156,161],
           "labelExpr":"(datum.value >= 23 && datum.value <= 138 && ((datum.value + 23) % 46) <= 23) ? '' + ((datum.value + 23) % 46) : ''",
           "grid":false,"tickSize":8,"labelPadding":5,"labelFontSize":13,"title":null}}}}
     ],
     "resolve":{"scale":{"x":"independent"}}},
    {"width":1750,"height":288,"view":{"stroke":"#333333","strokeWidth":1.2},
     "layer":[
      {"data":{"name":"week"},
       "transform":[{"calculate":"indexof(['Monday','Tuesday','Wednesday','Thursday','Friday','Saturday','Sunday'], datum.day) * 23 + datum.hour","as":"x"}],
       "encoding":{
         "x":{"field":"x","type":"quantitative","scale":{"domain":[0,161],"nice":false,"zero":false},
           "axis":{"values":[0,6,12,18,23,29,35,41,46,52,58,64,69,75,81,87,92,98,104,110,115,121,127,133,138,144,150,156,161],
             "labelExpr":"(datum.value % 46) <= 23 ? '' + (datum.value % 46) : ''",
             "grid":true,"tickSize":8,"labelPadding":12.5,"labelFontSize":13,"title":"hour","titleFontSize":17.5,"titlePadding":14}},
         "detail":{"field":"day","type":"nominal"}},
       "layer":[
        {"mark":{"type":"area","color":"#F8766D","opacity":0.4},"encoding":{"y":{"field":"amm_lo","type":"quantitative","title":"µg m⁻³","scale":{"domain":[-0.073,5.596],"nice":false,"zero":false},
           "axis":{"values":[0,1,2,3,4,5],"labelExpr":"datum.value == 0 ? '' : datum.label","grid":true,"tickSize":9,"labelPadding":9.5,"labelFontSize":11,"titleFontSize":16,"titlePadding":19.5}},"y2":{"field":"amm_hi"}}},
        {"mark":{"type":"line","color":"#F8766D","strokeWidth":2},"encoding":{"y":{"field":"amm","type":"quantitative","title":"µg m⁻³","scale":{"domain":[-0.073,5.596],"nice":false,"zero":false}}}},
        {"mark":{"type":"area","color":"#00BA38","opacity":0.4},"encoding":{"y":{"field":"nit_lo","type":"quantitative","title":"µg m⁻³","scale":{"domain":[-0.073,5.596],"nice":false,"zero":false}},"y2":{"field":"nit_hi"}}},
        {"mark":{"type":"line","color":"#00BA38","strokeWidth":2},"encoding":{"y":{"field":"nit","type":"quantitative","title":"µg m⁻³","scale":{"domain":[-0.073,5.596],"nice":false,"zero":false}}}},
        {"mark":{"type":"area","color":"#619CFF","opacity":0.4},"encoding":{"y":{"field":"sul_lo","type":"quantitative","title":"µg m⁻³","scale":{"domain":[-0.073,5.596],"nice":false,"zero":false}},"y2":{"field":"sul_hi"}}},
        {"mark":{"type":"line","color":"#619CFF","strokeWidth":2},"encoding":{"y":{"field":"sul","type":"quantitative","title":"µg m⁻³","scale":{"domain":[-0.073,5.596],"nice":false,"zero":false}}}}
       ]},
      {"data":{"name":"days"},"mark":{"type":"rect","fillOpacity":0,"stroke":"#333333","strokeWidth":1.2},
       "encoding":{"x":{"field":"day","type":"nominal","sort":null,"scale":{"type":"band","domain":["Monday","Tuesday","Wednesday","Thursday","Friday","Saturday","Sunday"],"paddingInner":0,"paddingOuter":0},"axis":null}}},
      {"data":{"name":"week"},"mark":{"type":"point","opacity":0},
       "encoding":{"y":{"field":"nit","type":"quantitative","scale":{"domain":[-0.073,5.596],"nice":false,"zero":false},
         "axis":{"orient":"right","values":[0,1,2,3,4,5],"labels":false,"grid":false,"tickSize":9,"title":null}}}},
      {"data":{"name":"species"},"mark":{"type":"point","filled":true,"opacity":0},
       "encoding":{"color":{"field":"name","type":"nominal","sort":null,"scale":{"domain":["Ammonium","Nitrate","Sulphate"],"range":["#F8766D","#00BA38","#619CFF"]},
         "legend":{"orient":"none","legendX":610,"legendY":481.5,"direction":"horizontal","title":null,"padding":0,
           "symbolType":"M-1,-0.459H1V0.459H-1Z","symbolSize":2401,"symbolStrokeWidth":0,"symbolOpacity":1,
           "labelFontSize":17.5,"labelOffset":20,"columnPadding":55,"labelColor":"#000000"}}}}
     ],
     "resolve":{"scale":{"x":"independent","y":"independent"}}}
   ],"spacing":0,"bounds":"flush"},
   {"hconcat":[
    {"width":1,"height":1,"data":{"name":"title"},"mark":{"type":"point","opacity":0,"size":1}},
    {"hconcat":[
    {"width":485,"height":393,"view":{"stroke":"#333333","strokeWidth":1.2},"data":{"name":"hours"},
     "layer":[
      {"encoding":{"x":{"field":"hour","type":"quantitative","scale":{"domain":[0,23],"nice":false,"zero":false},
          "axis":{"values":[0,6,12,18,23],"grid":true,"tickSize":10,"labelPadding":7.5,"labelFontSize":14,"title":"hour","titleFontSize":17.5,"titlePadding":13}}},
       "layer":[
        {"mark":{"type":"area","color":"#F8766D","opacity":0.4},"encoding":{"y":{"field":"amm_lo","type":"quantitative","title":"µg m⁻³","scale":{"domain":[0.255,2.181],"nice":false,"zero":false},
           "axis":{"values":[0.5,1,1.5,2],"format":".1f","grid":true,"tickSize":10,"labelPadding":7,"labelFontSize":14,"titleFontSize":16,"titlePadding":19.5}},"y2":{"field":"amm_hi"}}},
        {"mark":{"type":"line","color":"#F8766D","strokeWidth":2},"encoding":{"y":{"field":"amm","type":"quantitative","title":"µg m⁻³","scale":{"domain":[0.255,2.181],"nice":false,"zero":false}}}},
        {"mark":{"type":"area","color":"#00BA38","opacity":0.4},"encoding":{"y":{"field":"nit_lo","type":"quantitative","title":"µg m⁻³","scale":{"domain":[0.255,2.181],"nice":false,"zero":false}},"y2":{"field":"nit_hi"}}},
        {"mark":{"type":"line","color":"#00BA38","strokeWidth":2},"encoding":{"y":{"field":"nit","type":"quantitative","title":"µg m⁻³","scale":{"domain":[0.255,2.181],"nice":false,"zero":false}}}},
        {"mark":{"type":"area","color":"#619CFF","opacity":0.4},"encoding":{"y":{"field":"sul_lo","type":"quantitative","title":"µg m⁻³","scale":{"domain":[0.255,2.181],"nice":false,"zero":false}},"y2":{"field":"sul_hi"}}},
        {"mark":{"type":"line","color":"#619CFF","strokeWidth":2},"encoding":{"y":{"field":"sul","type":"quantitative","title":"µg m⁻³","scale":{"domain":[0.255,2.181],"nice":false,"zero":false}}}}
       ]},
      {"mark":{"type":"point","opacity":0},
       "encoding":{"x":{"field":"hour","type":"quantitative","scale":{"domain":[0,23],"nice":false,"zero":false},"axis":{"orient":"top","values":[0,6,12,18,23],"labels":false,"grid":false,"tickSize":10,"title":null}},
         "y":{"field":"nit","type":"quantitative","scale":{"domain":[0.255,2.181],"nice":false,"zero":false},"axis":{"orient":"right","values":[0.5,1,1.5,2],"labels":false,"grid":false,"tickSize":10,"title":null}}}}
     ],
     "resolve":{"scale":{"x":"independent","y":"independent"}}},
    {"width":486,"height":393,"view":{"stroke":"#333333","strokeWidth":1.2},"data":{"name":"months"},
     "layer":[
      {"encoding":{"x":{"field":"month","type":"nominal","sort":null,"scale":{"type":"band","domain":["Jan","Feb","Mar","Apr","May","Jun","Jul","Aug","Sep","Oct","Nov","Dec"],"paddingInner":0.4,"paddingOuter":0.2},
          "axis":{"labelExpr":"substring(datum.label,0,1)","labelAngle":0,"grid":true,"tickSize":10,"labelPadding":7.5,"labelFontSize":14,"title":["month","mean and 95% confidence interval in mean"],"titleFontSize":17.5,"titlePadding":13,"titleLineHeight":26}}},
       "layer":[
        {"mark":{"type":"bar","color":"#F8766D","opacity":0.4},"encoding":{"y":{"field":"amm_lo","type":"quantitative","title":"µg m⁻³","scale":{"domain":[0.225,2.141],"nice":false,"zero":false},
           "axis":{"values":[0.5,1,1.5,2],"format":".1f","grid":true,"tickSize":10,"labelPadding":7,"labelFontSize":14,"titleFontSize":16,"titlePadding":19.5}},"y2":{"field":"amm_hi"}}},
        {"mark":{"type":"line","color":"#F8766D","strokeWidth":2},"encoding":{"y":{"field":"amm","type":"quantitative","title":"µg m⁻³","scale":{"domain":[0.225,2.141],"nice":false,"zero":false}}}},
        {"mark":{"type":"bar","color":"#00BA38","opacity":0.4},"encoding":{"y":{"field":"nit_lo","type":"quantitative","title":"µg m⁻³","scale":{"domain":[0.225,2.141],"nice":false,"zero":false}},"y2":{"field":"nit_hi"}}},
        {"mark":{"type":"line","color":"#00BA38","strokeWidth":2},"encoding":{"y":{"field":"nit","type":"quantitative","title":"µg m⁻³","scale":{"domain":[0.225,2.141],"nice":false,"zero":false}}}},
        {"mark":{"type":"bar","color":"#619CFF","opacity":0.4},"encoding":{"y":{"field":"sul_lo","type":"quantitative","title":"µg m⁻³","scale":{"domain":[0.225,2.141],"nice":false,"zero":false}},"y2":{"field":"sul_hi"}}},
        {"mark":{"type":"line","color":"#619CFF","strokeWidth":2},"encoding":{"y":{"field":"sul","type":"quantitative","title":"µg m⁻³","scale":{"domain":[0.225,2.141],"nice":false,"zero":false}}}}
       ]},
      {"mark":{"type":"point","opacity":0},
       "encoding":{"x":{"field":"month","type":"nominal","sort":null,"scale":{"type":"band","domain":["Jan","Feb","Mar","Apr","May","Jun","Jul","Aug","Sep","Oct","Nov","Dec"],"paddingInner":0.4,"paddingOuter":0.2},"axis":{"orient":"top","labels":false,"grid":false,"tickSize":10,"title":null}},
         "y":{"field":"nit","type":"quantitative","scale":{"domain":[0.225,2.141],"nice":false,"zero":false},"axis":{"orient":"right","values":[0.5,1,1.5,2],"labels":false,"grid":false,"tickSize":10,"title":null}}}}
     ],
     "resolve":{"scale":{"x":"independent","y":"independent"}}},
    {"width":506,"height":393,"view":{"stroke":"#333333","strokeWidth":1.2},"data":{"name":"weekdays"},
     "layer":[
      {"encoding":{"x":{"field":"weekday","type":"nominal","sort":null,"scale":{"type":"band","domain":["Mon","Tue","Wed","Thu","Fri","Sat","Sun"],"paddingInner":0.4,"paddingOuter":0.1235},
          "axis":{"labelAngle":0,"grid":true,"tickSize":10,"labelPadding":7.5,"labelFontSize":14,"title":"weekday","titleFontSize":17.5,"titlePadding":13}}},
       "layer":[
        {"mark":{"type":"bar","color":"#F8766D","opacity":0.4},"encoding":{"y":{"field":"amm_lo","type":"quantitative","title":"µg m⁻³","scale":{"domain":[0.285,2.07],"nice":false,"zero":false},
           "axis":{"values":[0.5,1,1.5,2],"format":".1f","grid":true,"tickSize":10,"labelPadding":7,"labelFontSize":14,"titleFontSize":16,"titlePadding":18}},"y2":{"field":"amm_hi"}}},
        {"mark":{"type":"line","color":"#F8766D","strokeWidth":2},"encoding":{"y":{"field":"amm","type":"quantitative","title":"µg m⁻³","scale":{"domain":[0.285,2.07],"nice":false,"zero":false}}}},
        {"mark":{"type":"bar","color":"#00BA38","opacity":0.4},"encoding":{"y":{"field":"nit_lo","type":"quantitative","title":"µg m⁻³","scale":{"domain":[0.285,2.07],"nice":false,"zero":false}},"y2":{"field":"nit_hi"}}},
        {"mark":{"type":"line","color":"#00BA38","strokeWidth":2},"encoding":{"y":{"field":"nit","type":"quantitative","title":"µg m⁻³","scale":{"domain":[0.285,2.07],"nice":false,"zero":false}}}},
        {"mark":{"type":"bar","color":"#619CFF","opacity":0.4},"encoding":{"y":{"field":"sul_lo","type":"quantitative","title":"µg m⁻³","scale":{"domain":[0.285,2.07],"nice":false,"zero":false}},"y2":{"field":"sul_hi"}}},
        {"mark":{"type":"line","color":"#619CFF","strokeWidth":2},"encoding":{"y":{"field":"sul","type":"quantitative","title":"µg m⁻³","scale":{"domain":[0.285,2.07],"nice":false,"zero":false}}}}
       ]},
      {"mark":{"type":"point","opacity":0},
       "encoding":{"x":{"field":"weekday","type":"nominal","sort":null,"scale":{"type":"band","domain":["Mon","Tue","Wed","Thu","Fri","Sat","Sun"],"paddingInner":0.4,"paddingOuter":0.1235},"axis":{"orient":"top","labels":false,"grid":false,"tickSize":10,"title":null}},
         "y":{"field":"nit","type":"quantitative","scale":{"domain":[0.285,2.07],"nice":false,"zero":false},"axis":{"orient":"right","values":[0.5,1,1.5,2],"labels":false,"grid":false,"tickSize":10,"title":null}}}}
     ],
     "resolve":{"scale":{"x":"independent","y":"independent"}}}
    ],"spacing":130,"bounds":"flush"}
   ],"spacing":11.5,"bounds":"flush"}
 ],"columns":1,"align":"none","spacing":67}
],
"columns":1,"align":"none","spacing":24
}
